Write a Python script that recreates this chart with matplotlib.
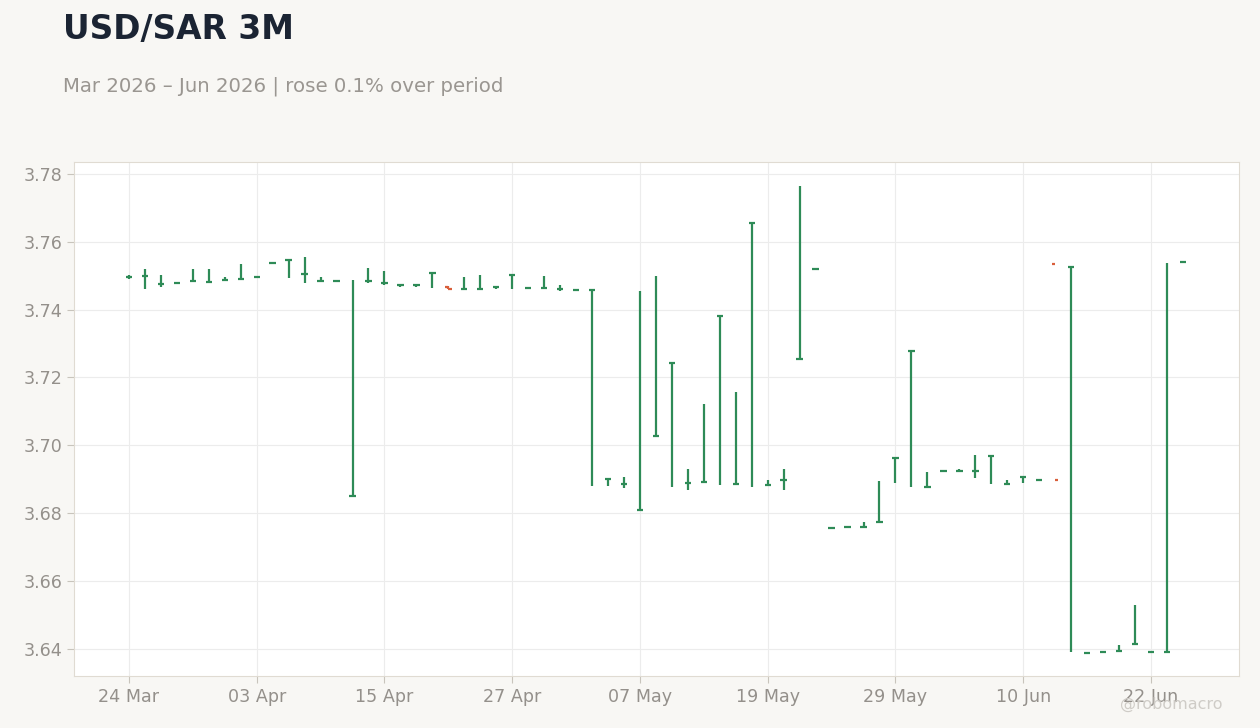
import numpy as np
import pandas as pd
from matplotlib import pyplot as plt

dates = pd.bdate_range("2026-03-24", periods=67)

opens = [3.7497, 3.7500, 3.7474, 3.7478, 3.7484, 3.7482, 3.7488, 3.7491, 3.7497, 3.7537,
         3.7545, 3.7506, 3.7483, 3.7483, 3.6851, 3.7484, 3.7479, 3.7471, 3.7471, 3.7507,
         3.7468, 3.7461, 3.7461, 3.7466, 3.7501, 3.7465, 3.7465, 3.7462, 3.7458, 3.7459,
         3.6902, 3.6887, 3.6808, 3.7026, 3.7244, 3.6890, 3.6893, 3.7380, 3.6887, 3.7654,
         3.6884, 3.6899, 3.7255, 3.7521, 3.6755, 3.6758, 3.6760, 3.6775, 3.6964, 3.7278,
         3.6878, 3.6923, 3.6923, 3.6923, 3.6967, 3.6887, 3.6908, 3.6899, 3.7535, 3.7525,
         3.6389, 3.6392, 3.6395, 3.6413, 3.6392, 3.6392, 3.7539]
highs = [3.7502, 3.7519, 3.7502, 3.7482, 3.7520, 3.7520, 3.7496, 3.7535, 3.7500, 3.7540,
         3.7545, 3.7555, 3.7496, 3.7486, 3.7487, 3.7522, 3.7513, 3.7474, 3.7474, 3.7507,
         3.7470, 3.7496, 3.7501, 3.7468, 3.7501, 3.7468, 3.7498, 3.7472, 3.7461, 3.7459,
         3.6902, 3.6906, 3.7455, 3.7498, 3.7245, 3.6931, 3.7122, 3.7381, 3.7158, 3.7655,
         3.6897, 3.6931, 3.7765, 3.7522, 3.6757, 3.6760, 3.6774, 3.6895, 3.6965, 3.7279,
         3.6922, 3.6925, 3.6930, 3.6972, 3.6968, 3.6897, 3.6909, 3.6901, np.nan, 3.7526,
         3.6391, 3.6394, 3.6412, 3.6530, 3.6394, 3.7538, 3.7541]
lows = [3.7490, 3.7462, 3.7468, 3.7474, 3.7481, 3.7479, 3.7484, 3.7490, 3.7494, 3.7533,
        3.7494, 3.7477, 3.7480, 3.7480, 3.6848, 3.7477, 3.7472, 3.7468, 3.7468, 3.7465,
        3.7460, 3.7460, 3.7460, 3.7460, 3.7461, 3.7462, 3.7460, 3.7456, 3.7455, 3.6881,
        3.6881, 3.6875, 3.6805, 3.7023, 3.6878, 3.6867, 3.6891, 3.6884, 3.6885, 3.6878,
        3.6881, 3.6867, 3.7253, 3.7519, 3.6753, 3.6756, 3.6757, 3.6772, 3.6890, 3.6878,
        3.6875, 3.6921, 3.6920, 3.6905, 3.6886, 3.6884, 3.6889, 3.6897, np.nan, 3.6390,
        3.6387, 3.6390, 3.6392, 3.6410, 3.6390, 3.6390, 3.7537]
closes = list(opens)
closes[20] = 3.7462
closes[58] = 3.6898

GREEN = "#2e8b57"
RED = "#d95f3b"

x = np.arange(len(dates))
o = np.array(opens)
h = np.array(highs)
l = np.array(lows)
c = np.array(closes)
colors = np.where(c >= o, GREEN, RED)

fig = plt.figure(figsize=(12.6, 7.28), dpi=100, facecolor="#f8f7f4")
ax = fig.add_axes([0.0587, 0.0714, 0.9246, 0.7061], facecolor="white")

# high-low bars with open tick on the left, close tick on the right
ok = ~np.isnan(h)
ax.vlines(x[ok], l[ok], h[ok], colors=colors[ok], linewidth=1.6)
ax.hlines(o, x - 0.2, x, colors=colors, linewidth=1.6)
ax.hlines(c, x, x + 0.2, colors=colors, linewidth=1.6)

ax.set_xlim(-3.444, 69.51)
ax.set_ylim(3.6320, 3.7835)
ax.set_yticks(np.arange(3.64, 3.781, 0.02))
ax.yaxis.set_major_formatter(plt.FormatStrFormatter("%.2f"))
ax.set_xticks(x[::8])
ax.set_xticklabels([d.strftime("%d %b") for d in dates[::8]])

ax.grid(True, color="#ececec", linewidth=0.8)
ax.set_axisbelow(True)
for s in ax.spines.values():
    s.set_color("#e0dbd2")
ax.tick_params(colors="#c8c4bc", labelcolor="#94908b", labelsize=12.6, length=5)

fig.text(0.05, 0.960, "USD/SAR 3M", fontsize=23.7, fontweight="bold",
         color="#1b2433", va="center")
fig.text(0.05, 0.882, "Mar 2026 – Jun 2026 | rose 0.1% over period", fontsize=14.25,
         color="#9a9691", va="center")
fig.text(0.970, 0.033, "@robomacro", fontsize=11.5, color="#cfccc7",
         ha="right", va="center")

fig.savefig("out.png", dpi=100, facecolor=fig.get_facecolor())
